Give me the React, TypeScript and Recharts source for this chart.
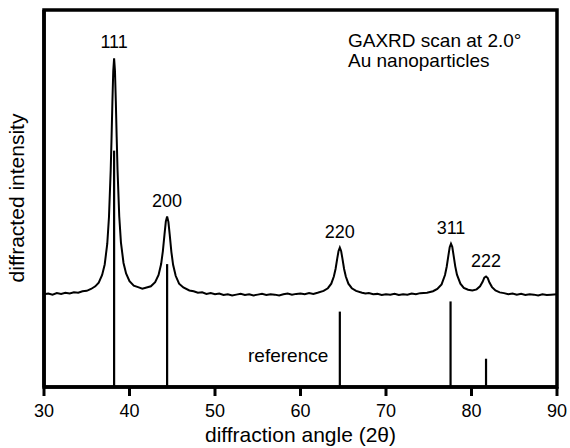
import { LineChart, Line, XAxis, YAxis, ReferenceLine, ReferenceDot, ReferenceArea } from 'recharts'

// measured GAXRD scan (2theta, arbitrary intensity)
const scanAngle = [
  30, 30.5, 31, 31.5, 32, 32.5, 33, 33.5, 34, 34.5, 35, 35.5, 36, 36.4, 36.8, 37.1, 37.4, 37.6, 37.8, 37.9,
  38, 38.1, 38.2, 38.3, 38.4, 38.5, 38.6, 38.8, 39, 39.3, 39.6, 40, 40.5, 41, 41.5, 42, 42.5, 43, 43.4, 43.7,
  43.9, 44.1, 44.25, 44.4, 44.55, 44.7, 44.9, 45.1, 45.4, 45.8, 46.3, 47, 47.5, 48, 48.5, 49, 49.5, 50, 50.5, 51,
  51.5, 52, 52.5, 53, 53.5, 54, 54.5, 55, 55.5, 56, 56.5, 57, 57.5, 58, 58.5, 59, 59.5, 60, 60.5, 61,
  61.5, 62, 62.7, 63.2, 63.6, 63.9, 64.1, 64.3, 64.45, 64.6, 64.75, 64.9, 65.1, 65.3, 65.6, 66, 66.5, 67.2, 67.6, 68,
  68.5, 69, 69.5, 70, 70.5, 71, 71.5, 72, 72.5, 73, 73.5, 74, 74.8, 75.5, 76, 76.5, 76.9, 77.1, 77.3, 77.45,
  77.6, 77.75, 77.9, 78.1, 78.3, 78.7, 79.1, 79.6, 80.1, 80.6, 81, 81.3, 81.5, 81.7, 81.9, 82.1, 82.4, 82.8, 83.3, 83.8,
  84.3, 84.8, 85.3, 85.8, 86.3, 86.8, 87.3, 87.8, 88.3, 88.8, 89.3, 90,
]
const scanIntensity = [
  24.6, 24.8, 24.5, 24.9, 24.7, 25.0, 24.8, 25.1, 25.0, 25.4, 25.5, 26.0, 26.7, 27.7, 29.7, 32.5, 38.0, 45.1, 57.4, 66.0,
  75.6, 83.8, 87.2, 83.9, 75.8, 66.3, 57.6, 45.3, 38.3, 32.9, 30.1, 28.1, 26.9, 26.5, 26.1, 26.4, 26.7, 27.8, 29.7, 32.6,
  36.0, 40.6, 43.9, 45.2, 43.8, 40.5, 35.8, 32.4, 29.5, 27.4, 26.4, 25.6, 25.4, 25.0, 25.1, 24.7, 24.9, 24.6, 24.8, 24.4,
  24.6, 24.3, 24.5, 24.7, 24.4, 24.6, 24.3, 24.5, 24.7, 24.4, 24.6, 24.5, 24.3, 24.6, 24.8, 24.5, 24.7, 24.8, 24.6, 24.9,
  24.7, 25.0, 25.5, 26.2, 27.4, 29.3, 31.3, 34.1, 36.1, 37.0, 36.1, 34.1, 31.3, 29.3, 27.4, 26.2, 25.5, 25.0, 24.8, 24.9,
  24.6, 24.7, 24.4, 24.6, 24.5, 24.7, 24.4, 24.6, 24.5, 24.8, 24.6, 24.9, 25.0, 25.4, 26.0, 27.2, 29.7, 31.9, 34.9, 37.1,
  38.0, 37.2, 35.0, 32.0, 29.8, 27.4, 26.3, 25.8, 25.6, 25.9, 26.7, 27.9, 29.0, 29.3, 28.9, 27.7, 26.5, 25.6, 25.1, 24.9,
  24.6, 24.8, 24.5, 24.7, 24.4, 24.6, 24.5, 24.3, 24.6, 24.4, 24.5, 24.6,
]

// Au reference pattern (stick lines)
const refAngle = [38.2, 44.4, 64.6, 77.55, 81.7]
const refIntensity = [62.7, 32.6, 20.0, 22.7, 7.5]

// peak labels
const peakLabel = ['111', '200', '220', '311', '222']
const peakAngle = [38.2, 44.4, 64.6, 77.6, 81.7]
const peakTop = [87.2, 45.2, 37.0, 38.0, 29.3]

const xTicks = [30, 40, 50, 60, 70, 80, 90]

const data = scanAngle.map((a, i) => ({ angle: a, intensity: scanIntensity[i] }))

const FONT = '"Liberation Sans", Arial, sans-serif'
const frame = { stroke: '#000', strokeWidth: 3.5 }

const YTitle = () => (
  <text
    x={17}
    y={198}
    transform='rotate(-90 17 198)'
    textAnchor='middle'
    fontSize={21}
    fontFamily={FONT}
    fill='#000'
    dy='0.35em'
  >
    diffracted intensity
  </text>
)

export default function App() {
  return (
    <div style={{ position: 'relative', width: 570, height: 448, background: '#fff', fontFamily: FONT }}>
      <style>{'body{margin:0}'}</style>
      <LineChart width={570} height={448} data={data} margin={{ top: 10, right: 13, left: 0, bottom: 0 }}>
        <XAxis
          dataKey='angle'
          type='number'
          domain={[30, 90]}
          ticks={xTicks}
          allowDataOverflow
          height={61}
          axisLine={frame}
          tickLine={{ stroke: '#000', strokeWidth: 3 }}
          tickSize={9}
          tickMargin={8}
          tick={{ fill: '#000', fontSize: 18, fontFamily: FONT }}
          label={{ value: 'diffraction angle (2θ)', position: 'insideBottom', offset: 6, fill: '#000', fontSize: 21, fontFamily: FONT }}
        />
        <YAxis type='number' domain={[0, 100]} width={44} tick={false} tickLine={false} axisLine={frame} label={YTitle} />
        <ReferenceArea x1={30} x2={90} y1={0} y2={100} fill='none' stroke='#000' strokeWidth={3.5} />
        {refAngle.map((a, i) => (
          <ReferenceLine
            key={'ref' + i}
            segment={[{ x: a, y: 0 }, { x: a, y: refIntensity[i] }]}
            stroke='#000'
            strokeWidth={2.2}
          />
        ))}
        <Line
          type='linear'
          dataKey='intensity'
          stroke='#000'
          strokeWidth={2}
          dot={false}
          isAnimationActive={false}
        />
        {peakAngle.map((a, i) => (
          <ReferenceDot
            key={'pk' + i}
            x={a}
            y={peakTop[i]}
            r={0}
            stroke='none'
            fill='none'
            label={{ value: peakLabel[i], position: 'top', offset: 10, fill: '#000', fontSize: 18, fontFamily: FONT }}
          />
        ))}
      </LineChart>
      <div style={{ position: 'absolute', left: 348, top: 31, fontSize: 19, lineHeight: '20px', color: '#000', whiteSpace: 'nowrap' }}>
        GAXRD scan at 2.0°
        <br />
        Au nanoparticles
      </div>
      <div style={{ position: 'absolute', left: 248, top: 346, fontSize: 19, lineHeight: '20px', color: '#000' }}>
        reference
      </div>
    </div>
  )
}
